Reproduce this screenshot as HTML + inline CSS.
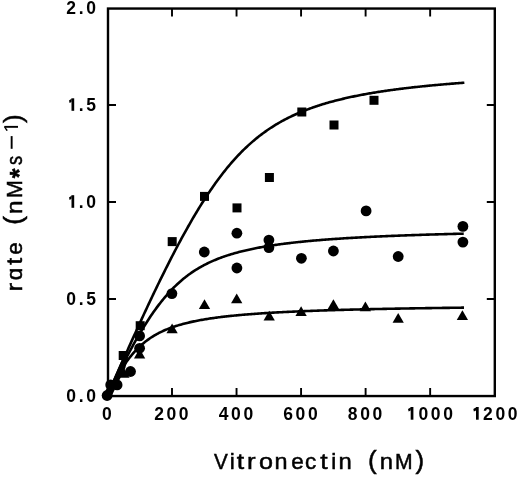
<!DOCTYPE html>
<html><head><meta charset="utf-8"><style>
html,body{margin:0;padding:0;background:#fff;}
body{width:520px;height:478px;overflow:hidden;}
svg{display:block;will-change:transform;}
.tk{font-family:"Liberation Sans",sans-serif;font-weight:bold;font-size:17.5px;letter-spacing:2.6px;fill:#000;}
.ti{font-family:"Liberation Sans",sans-serif;font-size:22.5px;fill:#000;stroke:#000;stroke-width:0.5px;}
.sup{font-size:21px;}
.h{fill:none;stroke:none;}
.pa{font-size:26px;}
.ast{font-size:25px;font-weight:bold;}
</style></head><body>
<svg width="520" height="478" viewBox="0 0 520 478">
<rect x="108.0" y="8.55" width="386.80" height="387.50" fill="none" stroke="#000" stroke-width="2.4"/>
<path d="M172.00,396.05 V388.05 M172.00,8.55 V16.55 M236.54,396.05 V388.05 M236.54,8.55 V16.55 M301.07,396.05 V388.05 M301.07,8.55 V16.55 M365.61,396.05 V388.05 M365.61,8.55 V16.55 M430.15,396.05 V388.05 M430.15,8.55 V16.55 M108.00,299.00 H116.00 M494.80,299.00 H486.80 M108.00,202.00 H116.00 M494.80,202.00 H486.80 M108.00,105.00 H116.00 M494.80,105.00 H486.80" stroke="#000" stroke-width="1.9" fill="none"/>
<g fill="none" stroke="#000" stroke-width="2.6" stroke-linejoin="round">
<path d="M107.46,396.00 L108.27,394.13 L109.07,392.27 L109.88,390.41 L110.69,388.55 L111.49,386.69 L112.30,384.84 L113.11,382.99 L113.91,381.14 L114.72,379.29 L115.53,377.44 L116.33,375.60 L117.14,373.76 L117.95,371.92 L118.75,370.09 L119.56,368.25 L120.37,366.42 L121.17,364.59 L121.98,362.77 L122.79,360.94 L123.59,359.12 L124.40,357.31 L125.21,355.49 L126.01,353.68 L126.82,351.87 L127.47,350.42 L128.59,347.90 L129.72,345.39 L130.85,342.88 L131.97,340.38 L133.10,337.88 L134.23,335.40 L135.35,332.91 L136.48,330.44 L137.61,327.97 L138.73,325.50 L139.86,323.05 L140.99,320.60 L142.11,318.15 L143.24,315.72 L144.37,313.29 L145.49,310.87 L146.62,308.46 L147.75,306.05 L148.87,303.66 L150.00,301.27 L151.13,298.89 L152.25,296.52 L153.38,294.16 L154.51,291.80 L155.63,289.46 L156.76,287.12 L157.89,284.80 L159.01,282.48 L160.14,280.17 L161.27,277.88 L162.40,275.59 L163.52,273.31 L164.65,271.05 L165.78,268.79 L166.90,266.55 L168.03,264.31 L169.16,262.09 L170.28,259.88 L171.41,257.68 L172.54,255.50 L173.66,253.32 L174.79,251.16 L175.92,249.01 L177.04,246.87 L178.17,244.75 L179.30,242.64 L180.42,240.54 L181.55,238.46 L182.68,236.39 L183.80,234.34 L184.93,232.30 L186.06,230.27 L187.18,228.26 L188.31,226.26 L189.44,224.28 L190.56,222.31 L191.69,220.36 L192.82,218.43 L193.94,216.51 L195.07,214.61 L196.20,212.72 L197.32,210.85 L198.45,209.00 L199.58,207.16 L200.70,205.35 L201.83,203.54 L202.96,201.76 L204.08,199.99 L205.21,198.25 L206.34,196.52 L207.46,194.80 L208.59,193.11 L209.72,191.43 L210.84,189.78 L211.97,188.14 L213.10,186.52 L214.22,184.92 L215.35,183.33 L216.48,181.77 L217.60,180.22 L218.73,178.70 L219.86,177.19 L220.98,175.70 L222.11,174.24 L223.24,172.79 L224.36,171.36 L225.49,169.95 L226.62,168.55 L227.74,167.18 L228.87,165.83 L230.00,164.49 L231.12,163.18 L232.25,161.88 L233.38,160.60 L234.50,159.34 L235.63,158.10 L236.76,156.88 L237.89,155.67 L239.01,154.49 L240.14,153.32 L241.27,152.17 L242.39,151.04 L243.52,149.92 L244.65,148.83 L245.77,147.75 L246.90,146.69 L248.03,145.64 L249.15,144.61 L250.28,143.60 L251.41,142.61 L252.53,141.63 L253.66,140.67 L254.79,139.72 L255.91,138.79 L257.04,137.87 L258.17,136.97 L259.29,136.09 L260.42,135.22 L261.55,134.36 L262.67,133.52 L263.80,132.70 L264.93,131.88 L266.05,131.09 L267.18,130.30 L268.31,129.53 L269.43,128.77 L270.56,128.02 L271.69,127.29 L272.81,126.57 L273.94,125.86 L275.07,125.17 L276.19,124.48 L277.32,123.81 L278.45,123.15 L279.57,122.50 L280.70,121.86 L281.83,121.23 L282.95,120.61 L284.08,120.01 L285.21,119.41 L286.33,118.82 L287.46,118.25 L288.59,117.68 L289.71,117.12 L290.84,116.57 L291.97,116.03 L293.09,115.50 L294.22,114.98 L295.35,114.47 L296.47,113.97 L297.60,113.47 L298.73,112.98 L299.85,112.50 L300.98,112.03 L302.11,111.57 L303.23,111.11 L304.36,110.66 L305.49,110.22 L306.61,109.78 L307.74,109.35 L308.87,108.93 L309.99,108.52 L311.12,108.11 L312.25,107.71 L313.38,107.31 L314.50,106.92 L315.63,106.54 L316.76,106.16 L317.88,105.79 L319.01,105.42 L320.14,105.06 L321.26,104.71 L322.39,104.36 L323.52,104.01 L324.64,103.67 L325.77,103.34 L326.90,103.01 L328.02,102.69 L329.15,102.37 L330.28,102.05 L331.40,101.74 L332.53,101.44 L333.66,101.13 L334.78,100.84 L335.91,100.54 L337.04,100.26 L338.16,99.97 L339.29,99.69 L340.42,99.41 L341.54,99.14 L342.67,98.87 L343.80,98.61 L344.92,98.35 L346.05,98.09 L347.18,97.83 L348.30,97.58 L349.43,97.33 L350.56,97.09 L351.68,96.85 L352.81,96.61 L353.94,96.38 L355.06,96.14 L356.19,95.92 L357.32,95.69 L358.44,95.47 L359.57,95.25 L360.70,95.03 L361.82,94.82 L362.95,94.61 L364.08,94.40 L365.20,94.19 L366.33,93.99 L367.46,93.79 L368.58,93.59 L369.71,93.39 L370.84,93.20 L371.96,93.01 L373.09,92.82 L374.22,92.63 L375.34,92.45 L376.47,92.26 L377.60,92.08 L378.72,91.91 L379.85,91.73 L380.98,91.56 L382.10,91.39 L383.23,91.22 L384.36,91.05 L385.48,90.88 L386.61,90.72 L387.74,90.56 L388.87,90.40 L389.99,90.24 L391.12,90.08 L392.25,89.93 L393.37,89.77 L394.50,89.62 L395.63,89.47 L396.75,89.33 L397.88,89.18 L399.01,89.03 L400.13,88.89 L401.26,88.75 L402.39,88.61 L403.51,88.47 L404.64,88.33 L405.77,88.20 L406.89,88.06 L408.02,87.93 L409.15,87.80 L410.27,87.67 L411.40,87.54 L412.53,87.41 L413.65,87.29 L414.78,87.16 L415.91,87.04 L417.03,86.92 L418.16,86.80 L419.29,86.68 L420.41,86.56 L421.54,86.44 L422.67,86.33 L423.79,86.21 L424.92,86.10 L426.05,85.98 L427.17,85.87 L428.30,85.76 L429.43,85.65 L430.55,85.54 L431.68,85.44 L432.81,85.33 L433.93,85.23 L435.06,85.12 L436.19,85.02 L437.31,84.92 L438.44,84.81 L439.57,84.71 L440.69,84.61 L441.82,84.52 L442.95,84.42 L444.07,84.32 L445.20,84.23 L446.33,84.13 L447.45,84.04 L448.58,83.94 L449.71,83.85 L450.83,83.76 L451.96,83.67 L453.09,83.58 L454.21,83.49 L455.34,83.40 L456.47,83.31 L457.59,83.23 L458.72,83.14 L459.85,83.05 L460.97,82.97 L462.10,82.89 L463.23,82.80 L464.36,82.72"/>
<path d="M107.46,396.00 L108.27,394.29 L109.07,392.59 L109.88,390.89 L110.69,389.20 L111.49,387.51 L112.30,385.83 L113.11,384.16 L113.91,382.49 L114.72,380.84 L115.53,379.18 L116.33,377.54 L117.14,375.90 L117.95,374.27 L118.75,372.65 L119.56,371.03 L120.37,369.43 L121.17,367.83 L121.98,366.24 L122.79,364.65 L123.59,363.08 L124.40,361.51 L125.21,359.96 L126.01,358.41 L126.82,356.87 L127.47,355.65 L128.59,353.53 L129.72,351.43 L130.84,349.34 L131.97,347.28 L133.09,345.24 L134.21,343.22 L135.34,341.21 L136.46,339.23 L137.59,337.28 L138.71,335.34 L139.84,333.42 L140.96,331.53 L142.09,329.66 L143.21,327.82 L144.34,326.00 L145.46,324.20 L146.58,322.43 L147.71,320.68 L148.83,318.96 L149.96,317.26 L151.08,315.59 L152.21,313.95 L153.33,312.33 L154.46,310.74 L155.58,309.17 L156.71,307.64 L157.83,306.12 L158.95,304.64 L160.08,303.18 L161.20,301.75 L162.33,300.34 L163.45,298.97 L164.58,297.62 L165.70,296.29 L166.83,295.00 L167.95,293.73 L169.08,292.48 L170.20,291.26 L171.32,290.07 L172.45,288.90 L173.57,287.76 L174.70,286.65 L175.82,285.56 L176.95,284.49 L178.07,283.45 L179.20,282.43 L180.32,281.43 L181.45,280.46 L182.57,279.51 L183.69,278.58 L184.82,277.68 L185.94,276.79 L187.07,275.93 L188.19,275.08 L189.32,274.26 L190.44,273.46 L191.57,272.68 L192.69,271.91 L193.82,271.16 L194.94,270.44 L196.06,269.72 L197.19,269.03 L198.31,268.35 L199.44,267.69 L200.56,267.05 L201.69,266.42 L202.81,265.80 L203.94,265.20 L205.06,264.62 L206.19,264.05 L207.31,263.49 L208.43,262.94 L209.56,262.41 L210.68,261.89 L211.81,261.38 L212.93,260.89 L214.06,260.40 L215.18,259.93 L216.31,259.47 L217.43,259.02 L218.56,258.57 L219.68,258.14 L220.81,257.72 L221.93,257.31 L223.05,256.90 L224.18,256.51 L225.30,256.12 L226.43,255.75 L227.55,255.38 L228.68,255.02 L229.80,254.66 L230.93,254.32 L232.05,253.98 L233.18,253.65 L234.30,253.32 L235.42,253.01 L236.55,252.69 L237.67,252.39 L238.80,252.09 L239.92,251.80 L241.05,251.51 L242.17,251.23 L243.30,250.95 L244.42,250.68 L245.55,250.42 L246.67,250.16 L247.79,249.91 L248.92,249.66 L250.04,249.41 L251.17,249.17 L252.29,248.94 L253.42,248.70 L254.54,248.48 L255.67,248.25 L256.79,248.04 L257.92,247.82 L259.04,247.61 L260.16,247.40 L261.29,247.20 L262.41,247.00 L263.54,246.80 L264.66,246.61 L265.79,246.42 L266.91,246.23 L268.04,246.05 L269.16,245.87 L270.29,245.69 L271.41,245.52 L272.53,245.35 L273.66,245.18 L274.78,245.01 L275.91,244.85 L277.03,244.69 L278.16,244.53 L279.28,244.38 L280.41,244.23 L281.53,244.08 L282.66,243.93 L283.78,243.78 L284.90,243.64 L286.03,243.50 L287.15,243.36 L288.28,243.22 L289.40,243.09 L290.53,242.95 L291.65,242.82 L292.78,242.69 L293.90,242.57 L295.03,242.44 L296.15,242.32 L297.28,242.20 L298.40,242.08 L299.52,241.96 L300.65,241.84 L301.77,241.73 L302.90,241.61 L304.02,241.50 L305.15,241.39 L306.27,241.28 L307.40,241.18 L308.52,241.07 L309.65,240.97 L310.77,240.86 L311.89,240.76 L313.02,240.66 L314.14,240.56 L315.27,240.46 L316.39,240.37 L317.52,240.27 L318.64,240.18 L319.77,240.09 L320.89,240.00 L322.02,239.91 L323.14,239.82 L324.26,239.73 L325.39,239.64 L326.51,239.56 L327.64,239.47 L328.76,239.39 L329.89,239.30 L331.01,239.22 L332.14,239.14 L333.26,239.06 L334.39,238.98 L335.51,238.90 L336.63,238.83 L337.76,238.75 L338.88,238.68 L340.01,238.60 L341.13,238.53 L342.26,238.46 L343.38,238.38 L344.51,238.31 L345.63,238.24 L346.76,238.17 L347.88,238.10 L349.00,238.04 L350.13,237.97 L351.25,237.90 L352.38,237.84 L353.50,237.77 L354.63,237.71 L355.75,237.64 L356.88,237.58 L358.00,237.52 L359.13,237.46 L360.25,237.40 L361.37,237.34 L362.50,237.28 L363.62,237.22 L364.75,237.16 L365.87,237.10 L367.00,237.04 L368.12,236.99 L369.25,236.93 L370.37,236.88 L371.50,236.82 L372.62,236.77 L373.75,236.71 L374.87,236.66 L375.99,236.61 L377.12,236.55 L378.24,236.50 L379.37,236.45 L380.49,236.40 L381.62,236.35 L382.74,236.30 L383.87,236.25 L384.99,236.20 L386.12,236.15 L387.24,236.11 L388.36,236.06 L389.49,236.01 L390.61,235.97 L391.74,235.92 L392.86,235.87 L393.99,235.83 L395.11,235.78 L396.24,235.74 L397.36,235.69 L398.49,235.65 L399.61,235.61 L400.73,235.56 L401.86,235.52 L402.98,235.48 L404.11,235.44 L405.23,235.40 L406.36,235.36 L407.48,235.31 L408.61,235.27 L409.73,235.23 L410.86,235.19 L411.98,235.16 L413.10,235.12 L414.23,235.08 L415.35,235.04 L416.48,235.00 L417.60,234.96 L418.73,234.93 L419.85,234.89 L420.98,234.85 L422.10,234.82 L423.23,234.78 L424.35,234.74 L425.47,234.71 L426.60,234.67 L427.72,234.64 L428.85,234.60 L429.97,234.57 L431.10,234.54 L432.22,234.50 L433.35,234.47 L434.47,234.43 L435.60,234.40 L436.72,234.37 L437.84,234.34 L438.97,234.30 L440.09,234.27 L441.22,234.24 L442.34,234.21 L443.47,234.18 L444.59,234.15 L445.72,234.12 L446.84,234.08 L447.97,234.05 L449.09,234.02 L450.22,233.99 L451.34,233.96 L452.46,233.93 L453.59,233.91 L454.71,233.88 L455.84,233.85 L456.96,233.82 L458.09,233.79 L459.21,233.76 L460.34,233.73 L461.46,233.71 L462.59,233.68 L463.71,233.65"/>
<path d="M107.46,396.00 L108.27,394.25 L109.07,392.53 L109.88,390.83 L110.69,389.16 L111.49,387.51 L112.30,385.89 L113.11,384.30 L113.91,382.73 L114.72,381.19 L115.53,379.68 L116.33,378.19 L117.14,376.74 L117.95,375.30 L118.75,373.90 L119.56,372.52 L120.37,371.17 L121.17,369.85 L121.98,368.56 L122.79,367.29 L123.59,366.05 L124.40,364.84 L125.21,363.65 L126.01,362.49 L126.82,361.36 L127.47,360.47 L128.59,358.96 L129.72,357.50 L130.84,356.08 L131.97,354.72 L133.09,353.40 L134.22,352.12 L135.35,350.89 L136.47,349.70 L137.60,348.55 L138.72,347.44 L139.85,346.37 L140.97,345.34 L142.10,344.35 L143.23,343.39 L144.35,342.46 L145.48,341.57 L146.60,340.70 L147.73,339.87 L148.85,339.07 L149.98,338.29 L151.11,337.54 L152.23,336.82 L153.36,336.12 L154.48,335.45 L155.61,334.79 L156.73,334.16 L157.86,333.55 L158.98,332.97 L160.11,332.40 L161.24,331.85 L162.36,331.31 L163.49,330.80 L164.61,330.30 L165.74,329.81 L166.86,329.35 L167.99,328.89 L169.12,328.45 L170.24,328.02 L171.37,327.61 L172.49,327.21 L173.62,326.82 L174.74,326.44 L175.87,326.07 L176.99,325.72 L178.12,325.37 L179.25,325.03 L180.37,324.71 L181.50,324.39 L182.62,324.08 L183.75,323.78 L184.87,323.48 L186.00,323.20 L187.13,322.92 L188.25,322.65 L189.38,322.38 L190.50,322.13 L191.63,321.87 L192.75,321.63 L193.88,321.39 L195.01,321.16 L196.13,320.93 L197.26,320.71 L198.38,320.49 L199.51,320.28 L200.63,320.08 L201.76,319.87 L202.88,319.68 L204.01,319.48 L205.14,319.30 L206.26,319.11 L207.39,318.93 L208.51,318.76 L209.64,318.58 L210.76,318.41 L211.89,318.25 L213.02,318.09 L214.14,317.93 L215.27,317.77 L216.39,317.62 L217.52,317.47 L218.64,317.33 L219.77,317.19 L220.89,317.05 L222.02,316.91 L223.15,316.77 L224.27,316.64 L225.40,316.51 L226.52,316.38 L227.65,316.26 L228.77,316.14 L229.90,316.02 L231.03,315.90 L232.15,315.78 L233.28,315.67 L234.40,315.56 L235.53,315.45 L236.65,315.34 L237.78,315.23 L238.90,315.13 L240.03,315.03 L241.16,314.93 L242.28,314.83 L243.41,314.73 L244.53,314.64 L245.66,314.54 L246.78,314.45 L247.91,314.36 L249.04,314.27 L250.16,314.18 L251.29,314.09 L252.41,314.01 L253.54,313.93 L254.66,313.84 L255.79,313.76 L256.92,313.68 L258.04,313.60 L259.17,313.52 L260.29,313.45 L261.42,313.37 L262.54,313.30 L263.67,313.22 L264.79,313.15 L265.92,313.08 L267.05,313.01 L268.17,312.94 L269.30,312.87 L270.42,312.81 L271.55,312.74 L272.67,312.67 L273.80,312.61 L274.93,312.55 L276.05,312.48 L277.18,312.42 L278.30,312.36 L279.43,312.30 L280.55,312.24 L281.68,312.18 L282.80,312.13 L283.93,312.07 L285.06,312.01 L286.18,311.96 L287.31,311.90 L288.43,311.85 L289.56,311.79 L290.68,311.74 L291.81,311.69 L292.94,311.64 L294.06,311.59 L295.19,311.54 L296.31,311.49 L297.44,311.44 L298.56,311.39 L299.69,311.34 L300.81,311.29 L301.94,311.25 L303.07,311.20 L304.19,311.16 L305.32,311.11 L306.44,311.07 L307.57,311.02 L308.69,310.98 L309.82,310.93 L310.95,310.89 L312.07,310.85 L313.20,310.81 L314.32,310.77 L315.45,310.73 L316.57,310.69 L317.70,310.65 L318.83,310.61 L319.95,310.57 L321.08,310.53 L322.20,310.49 L323.33,310.45 L324.45,310.42 L325.58,310.38 L326.70,310.34 L327.83,310.31 L328.96,310.27 L330.08,310.24 L331.21,310.20 L332.33,310.17 L333.46,310.13 L334.58,310.10 L335.71,310.06 L336.84,310.03 L337.96,310.00 L339.09,309.96 L340.21,309.93 L341.34,309.90 L342.46,309.87 L343.59,309.84 L344.71,309.81 L345.84,309.78 L346.97,309.75 L348.09,309.71 L349.22,309.69 L350.34,309.66 L351.47,309.63 L352.59,309.60 L353.72,309.57 L354.85,309.54 L355.97,309.51 L357.10,309.48 L358.22,309.46 L359.35,309.43 L360.47,309.40 L361.60,309.37 L362.73,309.35 L363.85,309.32 L364.98,309.29 L366.10,309.27 L367.23,309.24 L368.35,309.22 L369.48,309.19 L370.60,309.17 L371.73,309.14 L372.86,309.12 L373.98,309.09 L375.11,309.07 L376.23,309.04 L377.36,309.02 L378.48,309.00 L379.61,308.97 L380.74,308.95 L381.86,308.93 L382.99,308.90 L384.11,308.88 L385.24,308.86 L386.36,308.84 L387.49,308.81 L388.61,308.79 L389.74,308.77 L390.87,308.75 L391.99,308.73 L393.12,308.71 L394.24,308.69 L395.37,308.67 L396.49,308.64 L397.62,308.62 L398.75,308.60 L399.87,308.58 L401.00,308.56 L402.12,308.54 L403.25,308.52 L404.37,308.50 L405.50,308.48 L406.62,308.47 L407.75,308.45 L408.88,308.43 L410.00,308.41 L411.13,308.39 L412.25,308.37 L413.38,308.35 L414.50,308.33 L415.63,308.32 L416.76,308.30 L417.88,308.28 L419.01,308.26 L420.13,308.24 L421.26,308.23 L422.38,308.21 L423.51,308.19 L424.64,308.18 L425.76,308.16 L426.89,308.14 L428.01,308.12 L429.14,308.11 L430.26,308.09 L431.39,308.08 L432.51,308.06 L433.64,308.04 L434.77,308.03 L435.89,308.01 L437.02,308.00 L438.14,307.98 L439.27,307.96 L440.39,307.95 L441.52,307.93 L442.65,307.92 L443.77,307.90 L444.90,307.89 L446.02,307.87 L447.15,307.86 L448.27,307.84 L449.40,307.83 L450.52,307.81 L451.65,307.80 L452.78,307.78 L453.90,307.77 L455.03,307.76 L456.15,307.74 L457.28,307.73 L458.40,307.71 L459.53,307.70 L460.66,307.69 L461.78,307.67 L462.91,307.66 L464.03,307.65"/>
</g>
<g fill="#000">
<path d="M105.86,396.00 L106.36,394.85 L106.85,393.70 L107.35,392.56 L107.85,391.41 L108.34,390.27 L108.84,389.12 L109.34,387.98 L109.83,386.84 L110.33,385.70 L110.82,384.56 L111.32,383.42 L111.82,382.28 L112.31,381.14 L112.81,380.00 L113.31,378.86 L113.80,377.73 L114.30,376.59 L114.80,375.46 L115.29,374.33 L115.79,373.19 L116.29,372.06 L116.78,370.93 L117.28,369.80 L117.77,368.68 L118.27,367.55 L118.77,366.42 L119.26,365.30 L119.76,364.17 L120.26,363.05 L120.75,361.93 L121.25,360.80 L121.75,359.68 L122.24,358.56 L122.74,357.45 L123.24,356.33 L123.73,355.21 L124.23,354.10 L124.72,352.98 L125.22,351.87 L128.12,356.87 L127.88,357.82 L127.64,358.77 L127.40,359.72 L127.16,360.67 L126.92,361.63 L126.68,362.60 L126.44,363.56 L126.20,364.53 L125.96,365.50 L125.72,366.48 L125.48,367.46 L125.16,368.44 L124.67,369.43 L124.17,370.41 L123.67,371.41 L123.18,372.40 L122.68,373.40 L122.19,374.40 L121.69,375.40 L121.19,376.40 L120.70,377.41 L120.20,378.42 L119.70,379.44 L119.21,380.45 L118.71,381.47 L118.21,382.49 L117.72,383.52 L117.22,384.54 L116.72,385.57 L116.23,386.61 L115.73,387.64 L115.24,388.68 L114.74,389.72 L114.24,390.76 L113.75,391.80 L113.25,392.85 L112.75,393.90 L112.26,394.95 L111.76,396.00 Z"/>
<rect x="118.70" y="351.00" width="9.0" height="9.0"/>
<rect x="135.70" y="321.20" width="9.0" height="9.0"/>
<rect x="167.70" y="237.10" width="9.0" height="9.0"/>
<rect x="200.00" y="191.90" width="9.0" height="9.0"/>
<rect x="232.50" y="203.40" width="9.0" height="9.0"/>
<rect x="264.90" y="173.00" width="9.0" height="9.0"/>
<rect x="297.30" y="107.50" width="9.0" height="9.0"/>
<rect x="329.50" y="120.50" width="9.0" height="9.0"/>
<rect x="369.50" y="95.80" width="9.0" height="9.0"/>
<circle cx="107.10" cy="395.50" r="5.4"/>
<circle cx="110.70" cy="384.90" r="5.4"/>
<circle cx="117.10" cy="384.90" r="5.4"/>
<circle cx="130.50" cy="371.50" r="5.4"/>
<circle cx="139.60" cy="335.90" r="5.4"/>
<circle cx="139.60" cy="348.30" r="5.4"/>
<circle cx="171.90" cy="293.60" r="5.4"/>
<circle cx="204.30" cy="252.00" r="5.4"/>
<circle cx="236.90" cy="233.20" r="5.4"/>
<circle cx="236.90" cy="268.00" r="5.4"/>
<circle cx="268.90" cy="240.10" r="5.4"/>
<circle cx="268.90" cy="247.60" r="5.4"/>
<circle cx="301.40" cy="258.30" r="5.4"/>
<circle cx="333.40" cy="251.00" r="5.4"/>
<circle cx="366.10" cy="210.90" r="5.4"/>
<circle cx="398.20" cy="256.50" r="5.4"/>
<circle cx="462.90" cy="226.40" r="5.4"/>
<circle cx="462.90" cy="242.10" r="5.4"/>
<path d="M107.50,387.10 L113.15,396.90 L101.85,396.90 Z"/>
<path d="M123.90,367.90 L129.55,377.70 L118.25,377.70 Z"/>
<path d="M139.60,348.60 L145.25,358.40 L133.95,358.40 Z"/>
<path d="M172.10,323.50 L177.75,333.30 L166.45,333.30 Z"/>
<path d="M204.50,299.30 L210.15,309.10 L198.85,309.10 Z"/>
<path d="M236.70,293.40 L242.35,303.20 L231.05,303.20 Z"/>
<path d="M269.20,310.80 L274.85,320.60 L263.55,320.60 Z"/>
<path d="M301.10,306.30 L306.75,316.10 L295.45,316.10 Z"/>
<path d="M333.40,299.30 L339.05,309.10 L327.75,309.10 Z"/>
<path d="M365.40,301.40 L371.05,311.20 L359.75,311.20 Z"/>
<path d="M398.20,312.90 L403.85,322.70 L392.55,322.70 Z"/>
<path d="M462.40,310.30 L468.05,320.10 L456.75,320.10 Z"/>
</g>
<text class="tk" x="98.5" y="14.30" text-anchor="end">2.0</text>
<text class="tk" x="98.5" y="111.30" text-anchor="end"><tspan class="h">1</tspan>.5</text>
<text class="tk" x="98.5" y="208.30" text-anchor="end"><tspan class="h">1</tspan>.0</text>
<text class="tk" x="98.5" y="305.30" text-anchor="end">0.5</text>
<text class="tk" x="98.5" y="402.30" text-anchor="end">0.0</text>
<text class="tk" x="108.16" y="420" text-anchor="middle">0</text>
<text class="tk" x="172.70" y="420" text-anchor="middle">200</text>
<text class="tk" x="237.24" y="420" text-anchor="middle">400</text>
<text class="tk" x="301.77" y="420" text-anchor="middle">600</text>
<text class="tk" x="366.31" y="420" text-anchor="middle">800</text>
<text class="tk" x="430.85" y="420" text-anchor="middle"><tspan class="h">1</tspan>000</text>
<text class="tk" x="495.39" y="420" text-anchor="middle"><tspan class="h">1</tspan>200</text>
<g fill="#000"><rect x="71.50" y="98.30" width="2.7" height="12.50"/><path d="M71.80,98.50 L69.00,100.50 L69.60,103.00 L71.50,101.90 Z"/><rect x="71.50" y="195.20" width="2.7" height="12.60"/><path d="M71.80,195.40 L69.00,197.40 L69.60,199.90 L71.50,198.80 Z"/><rect x="410.70" y="407.00" width="2.7" height="12.70"/><path d="M411.00,407.20 L408.00,408.90 L408.60,411.40 L410.70,410.60 Z"/><rect x="476.00" y="407.00" width="2.7" height="12.70"/><path d="M476.30,407.20 L473.30,408.90 L473.90,411.40 L476.00,410.60 Z"/><rect x="4.4" y="125.9" width="13.6" height="1.9"/><rect x="10.7" y="136.1" width="1.9" height="12.7"/><path d="M4.4,125.9 L4.4,127.8 L6.4,131.0 L7.9,130.2 Z"/></g>
<text class="ti" text-anchor="middle" transform="translate(220.95,468.8) scale(0.92,1)">V</text><text class="ti" text-anchor="middle" transform="translate(232.30,468.8) scale(1,1)">i</text><text class="ti" text-anchor="middle" transform="translate(240.33,468.8) scale(1.18,1)">t</text><text class="ti" text-anchor="middle" transform="translate(251.42,468.8) scale(1.15,1)">r</text><text class="ti" text-anchor="middle" transform="translate(266.05,468.8) scale(1.12,1)">o</text><text class="ti" text-anchor="middle" transform="translate(280.90,468.8) scale(1.04,1)">n</text><text class="ti" text-anchor="middle" transform="translate(297.40,468.8) scale(1.0,1)">e</text><text class="ti" text-anchor="middle" transform="translate(310.55,468.8) scale(1.0,1)">c</text><text class="ti" text-anchor="middle" transform="translate(323.83,468.8) scale(1.18,1)">t</text><text class="ti" text-anchor="middle" transform="translate(333.75,468.8) scale(1,1)">i</text><text class="ti" text-anchor="middle" transform="translate(345.20,468.8) scale(1.06,1)">n</text><text class="ti pa" text-anchor="middle" transform="translate(372.36,468.8) scale(1,1)">(</text><text class="ti" text-anchor="middle" transform="translate(386.25,468.8) scale(1.06,1)">n</text><text class="ti" text-anchor="middle" transform="translate(403.90,468.8) scale(0.94,1)">M</text><text class="ti pa" text-anchor="middle" transform="translate(419.95,468.8) scale(1,1)">)</text><g transform="translate(22,292) rotate(-90)"><text class="ti" text-anchor="middle" transform="translate(4.87,0) scale(1.15,1)">r</text><text class="ti" text-anchor="middle" transform="translate(18.00,0) scale(1.0,1)">ɑ</text><text class="ti" text-anchor="middle" transform="translate(30.84,0) scale(1.12,1)">t</text><text class="ti" text-anchor="middle" transform="translate(43.45,0) scale(1.0,1)">e</text><text class="ti pa" text-anchor="middle" transform="translate(71.51,0) scale(1,1)">(</text><text class="ti" text-anchor="middle" transform="translate(84.80,0) scale(1.08,1)">n</text><text class="ti" text-anchor="middle" transform="translate(102.80,0) scale(0.95,1)">M</text><text class="ti" text-anchor="middle" transform="translate(131.73,0) scale(0.82,1)">s</text><text class="ti pa" text-anchor="middle" transform="translate(173.25,0) scale(1,1)">)</text><text class="ti ast" text-anchor="middle" transform="translate(118.55,5.5) scale(1,1)">*</text></g>
</svg>
</body></html>
